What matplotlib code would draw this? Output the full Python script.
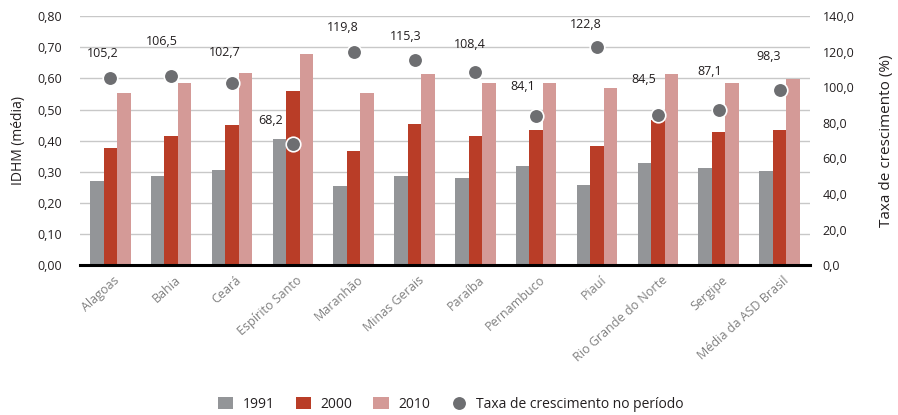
import matplotlib.pyplot as plt
import numpy as np

plt.rcParams['font.family'] = ['Open Sans', 'DejaVu Sans']

estados = ['Alagoas', 'Bahia', 'Ceará', 'Espírito Santo', 'Maranhão', 'Minas Gerais',
           'Paraíba', 'Pernambuco', 'Piauí', 'Rio Grande do Norte', 'Sergipe',
           'Média da ASD Brasil']
idhm_1991 = [0.269, 0.285, 0.306, 0.406, 0.253, 0.285, 0.279, 0.319, 0.258, 0.329, 0.313, 0.302]
idhm_2000 = [0.378, 0.416, 0.450, 0.559, 0.367, 0.454, 0.416, 0.434, 0.383, 0.467, 0.427, 0.434]
idhm_2010 = [0.553, 0.586, 0.619, 0.679, 0.553, 0.613, 0.586, 0.586, 0.570, 0.613, 0.586, 0.597]
taxa = [105.2, 106.5, 102.7, 68.2, 119.8, 115.3, 108.4, 84.1, 122.8, 84.5, 87.1, 98.3]

# label offsets (pixels) relative to each dot
label_offsets = [(-8, 25), (-9, 34), (-7, 30), (-22, 23), (-11, 25), (-9, 24),
                 (-6, 28), (-13, 29), (-11, 22), (-14, 35), (-9, 39), (-11, 34)]

c91, c00, c10, cdot = '#939598', '#b93d27', '#d49a97', '#6d6e71'
txt = '#231f20'

fig = plt.figure(figsize=(8.98, 4.15), dpi=100)
ax = fig.add_axes([0.089, 0.361, 0.813, 0.600])
x = np.arange(len(estados))
w = 0.222

ax.bar(x - w, idhm_1991, w, color=c91, label='1991', zorder=2)
ax.bar(x, idhm_2000, w, color=c00, label='2000', zorder=2)
ax.bar(x + w, idhm_2010, w, color=c10, label='2010', zorder=2)

ax.set_ylim(0, 0.8)
ax.set_xlim(-0.5, len(estados) - 0.5)
ax.set_yticks(np.arange(0, 0.81, 0.1))
ax.set_yticklabels([f'{v:.2f}'.replace('.', ',') for v in np.arange(0, 0.81, 0.1)])
ax.yaxis.grid(True, color='#c8c8c8', linewidth=1, zorder=0)
ax.set_axisbelow(True)
for s in ['top', 'right', 'left']:
    ax.spines[s].set_visible(False)
ax.spines['bottom'].set_linewidth(2.2)
ax.spines['bottom'].set_zorder(5)
ax.tick_params(axis='both', length=0, labelsize=9, colors=txt)
ax.tick_params(axis='y', pad=13)
ax.set_xticks(x + 0.05)
ax.set_xticklabels(estados, rotation=42, ha='right', rotation_mode='anchor',
                   color='#808080', fontsize=9)
ax.tick_params(axis='x', pad=6)
ax.set_ylabel('IDHM (média)', fontsize=10, color=txt, labelpad=8)

ax2 = ax.twinx()
ax2.set_ylim(0, 140)
ax2.set_yticks(np.arange(0, 141, 20))
ax2.set_yticklabels([f'{v:.1f}'.replace('.', ',') for v in np.arange(0, 141, 20)])
for s in ax2.spines.values():
    s.set_visible(False)
ax2.tick_params(axis='y', length=0, labelsize=9, colors=txt, pad=9)
ax2.set_ylabel('Taxa de crescimento (%)', fontsize=11, color=txt, labelpad=18)
ax2.scatter(x, taxa, s=110, color=cdot, edgecolor='white', linewidth=1.2, zorder=4,
            label='Taxa de crescimento no período')
for xi, v, off in zip(x, taxa, label_offsets):
    ax2.annotate(f'{v:.1f}'.replace('.', ','), (xi, v), xytext=off,
                 textcoords='offset pixels', ha='center', va='center',
                 fontsize=9, color=txt)

h1, l1 = ax.get_legend_handles_labels()
h2, l2 = ax2.get_legend_handles_labels()
fig.legend(h1 + h2, l1 + l2, loc='lower center', bbox_to_anchor=(0.502, -0.022),
           ncol=4, frameon=False, fontsize=10, handlelength=1.1, handleheight=1.0,
           columnspacing=1.5, handletextpad=0.7, labelcolor=txt)

fig.savefig('out.png', dpi=100)
